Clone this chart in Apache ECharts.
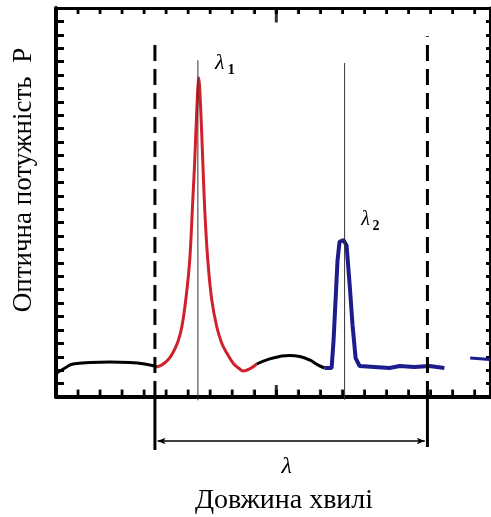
<!DOCTYPE html>
<html>
<head>
<meta charset="UTF-8">
<title></title>
<script src="https://cdn.jsdelivr.net/npm/echarts@6/dist/echarts.min.js"></script>
<style>html,body{margin:0;padding:0;background:#fff;}</style>
</head>
<body>
<div id="main" style="width:491px;height:517px"></div>
<script>
// спектр, умовні одиниці: x - довжина хвилі, y - потужність
var blackLeft = [[0.05,1.8],[0.41,2.16],[0.77,2.46],[1.54,2.57],[2.45,2.6],[3.35,2.57],[4.26,2.39],[4.58,2.24]];
var redPeak = [[4.58,2.24],[4.8,2.39],[5.08,2.76],[5.3,3.28],[5.53,4.1],[5.71,5.22],[5.89,7.24],[6.07,10.2],
  [6.21,14.7],[6.3,17.7],[6.39,21.4],[6.48,23.8],[6.57,21.4],[6.66,17.7],[6.75,14.0],[6.89,10.2],[7.07,7.24],
  [7.3,5.22],[7.52,4.03],[7.75,3.28],[8.07,2.46],[8.34,2.09],[8.48,1.94],[8.79,2.09],[9.11,2.46]];
var blackHump = [[9.11,2.46],[9.7,2.84],[10.15,3.02],[10.61,3.1],[11.06,3.02],[11.51,2.76],[11.88,2.39],[12.19,2.16]];
var bluePeak = [[12.19,2.16],[12.51,2.16],[12.6,4.25],[12.69,7.24],[12.78,10.2],[12.87,11.57],[13.05,11.7],
  [13.19,11.3],[13.33,8.36],[13.46,5.37],[13.6,2.9],[13.78,2.31],[14.46,2.24],[15.14,2.16],[15.6,2.31],
  [16.27,2.24],[16.95,2.31],[17.63,2.16]];
var blueTail = [[18.8,2.9],[19.7,2.8]];

// риски на осі x
var xTicks = [1,2,3,4,5,6,7,8,9,10,11,12,13,14,15,16,17,18,19];
var majorTick = 10;

var lambda1 = 6.44, lambda1Top = 25.1;
var lambda2 = 13.1, lambda2Top = 24.9;
var bandLeft = 4.49, bandLeftTop = 26.4;
var bandRight = 16.86, bandRightTop = 26.9;

var xMax = 19.7, yMax = 29;
var serif = 'Liberation Serif';

var myChart = echarts.init(document.getElementById('main'));

var noLabel = {show: false};
function ticks(len, w) {
  return {show: true, inside: true, length: len, lineStyle: {color: '#000', width: w}};
}
function line(w) {
  return {show: true, onZero: false, lineStyle: {color: '#000', width: w}};
}
function vline(data, style) {
  return {type: 'line', data: data, symbol: 'none', clip: false, silent: true, lineStyle: style};
}
function tickMarks(data, size, offset) {
  return {type: 'scatter', data: data, symbol: 'rect', symbolSize: size, symbolOffset: offset,
    clip: false, silent: true, z: 10, itemStyle: {color: '#000'}};
}
var solid3 = {color: '#000', width: 3};

var option = {
  animation: false,
  grid: {left: 56, right: 1, top: 8, bottom: 120},
  xAxis: [
    {type: 'value', position: 'bottom', min: 0, max: xMax, interval: 1,
      axisLine: {show: true, lineStyle: {color: '#000', width: 4}}, axisTick: ticks(7, 2),
      axisLabel: noLabel, splitLine: {show: false}},
    {type: 'value', position: 'top', min: 0, max: xMax, interval: 1,
      axisLine: line(3), axisTick: ticks(6, 2), axisLabel: noLabel, splitLine: {show: false}}
  ],
  yAxis: [
    {type: 'value', position: 'left', min: 0, max: yMax, interval: 1,
      axisLine: line(4), axisTick: ticks(8, 3), axisLabel: noLabel, splitLine: {show: false}},
    {type: 'value', position: 'right', min: 0, max: yMax, interval: 1,
      axisLine: line(3), axisTick: ticks(4, 3), axisLabel: noLabel, splitLine: {show: false}}
  ],
  series: [
    {type: 'line', data: blackLeft, symbol: 'none', smooth: true, lineStyle: {color: '#000', width: 3}},
    {type: 'line', data: redPeak, symbol: 'none', smooth: 0.3, lineStyle: {color: '#d0202c', width: 3}},
    {type: 'line', data: blackHump, symbol: 'none', smooth: true, lineStyle: {color: '#000', width: 3}},
    {type: 'line', data: bluePeak, symbol: 'none', lineStyle: {color: '#1c1c8c', width: 4}},
    {type: 'line', data: blueTail, symbol: 'none', lineStyle: {color: '#1c1c8c', width: 3}},
    // риски по x (низ, верх) і довгі риски на 10
    tickMarks(xTicks.map(function(v) { return [v, 0]; }), [3, 7], [0, -4]),
    tickMarks(xTicks.map(function(v) { return [v, yMax]; }), [3, 6], [0, 3]),
    tickMarks([[majorTick, 0]], [3, 12], [0, -6]),
    tickMarks([[majorTick, yMax]], [3, 15], [0, 7]),
    // межі діапазону - пунктир
    vline([[bandLeft, 0], [bandLeft, bandLeftTop]], {color: '#000', width: 3, type: [16, 8]}),
    vline([[bandRight, 0], [bandRight, bandRightTop]], {color: '#000', width: 3, type: [16, 8]}),
    // λ1, λ2
    vline([[lambda1, -0.25], [lambda1, lambda1Top]], {color: '#333', width: 1}),
    vline([[lambda2, -0.2], [lambda2, lambda2Top]], {color: '#333', width: 1}),
    // під віссю: виноски та стрілка
    vline([[bandLeft, 0], [bandLeft, -3.95]], solid3),
    vline([[bandRight, 0], [bandRight, -3.73]], solid3),
    {type: 'line', clip: false, silent: true, symbolSize: [5, 8],
      data: [{value: [bandLeft + 0.12, -3.28], symbol: 'arrow', symbolRotate: 90},
             {value: [bandRight - 0.12, -3.28], symbol: 'arrow', symbolRotate: -90}],
      lineStyle: {color: '#000', width: 1.5}, itemStyle: {color: '#000', borderWidth: 0}}
  ]
};

myChart.setOption(option);

var p1 = myChart.convertToPixel({gridIndex: 0}, [lambda1, lambda1Top]);
var p2 = myChart.convertToPixel({gridIndex: 0}, [13.05, 11.7]);
var pL = myChart.convertToPixel({gridIndex: 0}, [(bandLeft + bandRight) / 2 - 0.2, -5.2]);

function lambdaLabel(x, y, sub, size) {
  return {
    type: 'group', x: x, y: y, children: [
      {type: 'text', style: {text: 'λ', font: 'italic ' + size + 'px ' + serif, fill: '#000',
        textAlign: 'center', textVerticalAlign: 'middle'}},
      {type: 'text', x: size * 0.35, y: size * 0.3, style: {text: sub, font: 'bold ' + Math.round(size * 0.7) + 'px ' + serif,
        fill: '#000', textAlign: 'left', textVerticalAlign: 'middle'}}
    ]
  };
}

myChart.setOption({
  graphic: [
    lambdaLabel(p1[0] + 22, p1[1] + 3, '1', 22),
    lambdaLabel(p2[0] + 22, p2[1] - 20, '2', 20),
    {type: 'text', x: pL[0], y: pL[1], style: {text: 'λ', font: 'italic 24px ' + serif, fill: '#000',
      textAlign: 'center', textVerticalAlign: 'middle'}},
    {type: 'text', x: 24, y: 180, rotation: Math.PI / 2,
      style: {text: 'Оптична потужність  P', font: '27px ' + serif, fill: '#000',
        textAlign: 'center', textVerticalAlign: 'middle'}},
    {type: 'text', x: 284, y: 501,
      style: {text: 'Довжина хвилі', font: '28px ' + serif, fill: '#000',
        textAlign: 'center', textVerticalAlign: 'middle'}}
  ]
});
</script>
</body>
</html>
